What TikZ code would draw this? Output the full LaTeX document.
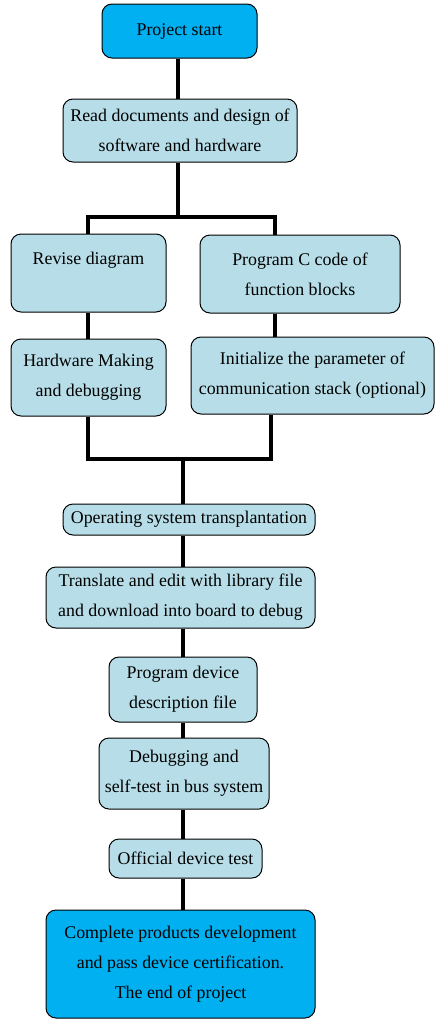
\documentclass[tikz,border=0pt]{standalone}
\usepackage{fontspec}
\setmainfont{Liberation Serif}
\definecolor{lightbox}{HTML}{B7DEE8}
\definecolor{brightbox}{HTML}{00B0F0}
\begin{document}
\begin{tikzpicture}[x=0.75pt,y=-0.75pt,
  box/.style={draw=black,line width=0.75pt,rounded corners=7.5pt,fill=lightbox,
    align=center,inner sep=0pt,font=\fontsize{13.4}{22.5}\selectfont},
  mainbox/.style={box,fill=brightbox},
  conn/.style={line width=3pt,black}]
\useasboundingbox (0,0) rectangle (447,1029);
\fill[white] (0,0) rectangle (447,1029);
\node[mainbox,minimum width=155*0.75pt,minimum height=54*0.75pt] (start) at (179.5,31) {Project start};
\node[box,minimum width=234*0.75pt,minimum height=63*0.75pt] (read) at (180,130.5) {Read documents and design of\\software and hardware};
\node[box,minimum width=155*0.75pt,minimum height=78*0.75pt] (revise) at (88.5,273) {Revise diagram\\\mbox{}};
\node[box,minimum width=200*0.75pt,minimum height=78*0.75pt] (progc) at (300,274) {Program C code of\\function blocks};
\node[box,minimum width=155*0.75pt,minimum height=77*0.75pt] (hw) at (88.5,377.5) {Hardware Making\\and debugging};
\node[box,minimum width=243*0.75pt,minimum height=77*0.75pt] (init) at (312.5,375.5) {Initialize the parameter of\\communication stack (optional)};
\node[box,minimum width=252*0.75pt,minimum height=31*0.75pt] (os) at (189,519.5) {Operating system transplantation};
\node[box,minimum width=269*0.75pt,minimum height=61*0.75pt] (trans) at (180.5,597.5) {Translate and edit with library file\\and download into board to debug};
\node[box,minimum width=148*0.75pt,minimum height=65*0.75pt] (pdd) at (183,689.5) {Program device\\description file};
\node[box,minimum width=170*0.75pt,minimum height=71*0.75pt] (dbg) at (184,773.5) {Debugging and\\self-test in bus system};
\node[box,minimum width=153*0.75pt,minimum height=39*0.75pt] (off) at (185.5,858.5) {Official device test};
\node[mainbox,minimum width=269*0.75pt,minimum height=108*0.75pt] (end) at (180.5,964) {Complete products development\\and pass device certification.\\The end of project};
% connectors
\coordinate (top) at (178,0);
\coordinate (j1) at (178,217);
\coordinate (pc) at (275,217);
\coordinate (lc) at (88,217);
\coordinate (m) at (183,459);
\coordinate (rc) at (271,459);
\draw[conn] (top |- start.south) -- (top |- read.north);
\draw[conn] (j1 |- read.south) -- (j1);
\draw[conn] (lc |- revise.north) -- (lc) -- (pc) -- (pc |- progc.north);
\draw[conn] (lc |- revise.south) -- (lc |- hw.north);
\draw[conn] (pc |- progc.south) -- (pc |- init.north);
\draw[conn] (lc |- hw.south) -- (lc |- m) -- (rc) -- (rc |- init.south);
\draw[conn] (m) -- (m |- os.north);
\draw[conn] (m |- os.south) -- (m |- trans.north);
\draw[conn] (m |- trans.south) -- (m |- pdd.north);
\draw[conn] (m |- pdd.south) -- (m |- dbg.north);
\draw[conn] (m |- dbg.south) -- (m |- off.north);
\draw[conn] (m |- off.south) -- (m |- end.north);
\end{tikzpicture}
\end{document}
